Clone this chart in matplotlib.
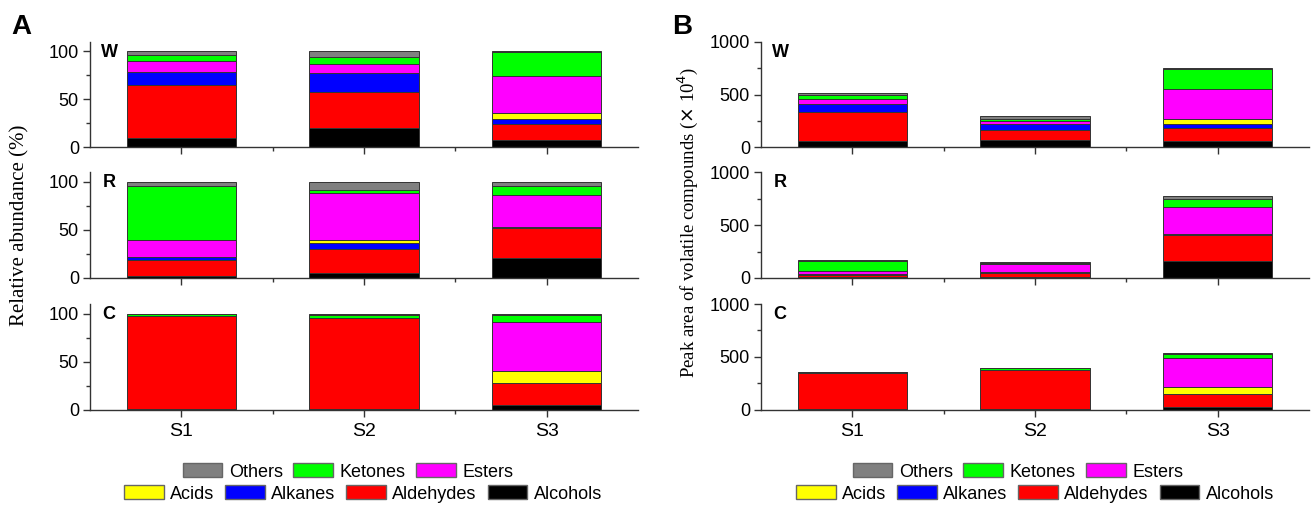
import matplotlib.pyplot as plt
import numpy as np
from matplotlib.patches import Patch

plt.rcParams['font.family'] = ['Liberation Sans', 'DejaVu Sans']

samples = ['S1', 'S2', 'S3']
classes = ['Alcohols', 'Aldehydes', 'Alkanes', 'Acids', 'Esters', 'Ketones', 'Others']
colors = ['#000000', '#ff0000', '#0000ff', '#ffff00', '#ff00ff', '#00ff00', '#808080']

# relative abundance (%), one list per class (bottom -> top), values for S1, S2, S3
rel_W = [[10, 20, 8], [55, 38, 16], [13, 19.5, 6], [0, 0, 6], [11.5, 9.5, 38], [7, 7, 25], [3.5, 6, 1]]
rel_R = [[2.5, 5, 21], [16.5, 25, 31], [3, 6.5, 1], [0, 2.5, 0], [17, 49.5, 33], [56.5, 3.5, 10], [4.5, 8, 4]]
rel_C = [[0.5, 0.5, 5], [96.5, 94.5, 23], [0, 0, 0], [0, 0, 12], [0, 0, 51], [2.5, 4, 8], [0.5, 1, 1]]

# peak area (x 10^4)
area_W = [[60, 68, 60], [270, 100, 120], [80, 53, 45], [0, 0, 45], [47, 25, 285], [40, 22, 187], [13, 24, 8]]
area_R = [[4, 8, 163], [28, 38, 240], [5, 10, 8], [0, 4, 0], [28, 75, 256], [94, 5, 78], [8, 12, 31]]
area_C = [[2, 2, 27], [343, 372, 123], [0, 0, 0], [0, 0, 64], [0, 0, 273], [8, 18, 43], [2, 4, 5]]

rows = ['W', 'R', 'C']
W, H = 1312, 505


def stack(ax, data, ymax, yticks, yminor, letter, last):
    x = np.arange(1, len(samples) + 1)
    bottom = np.zeros(len(samples))
    for vals, c in zip(data, colors):
        vals = np.array(vals, dtype=float)
        ax.bar(x, vals, 0.6, bottom=bottom, color=c, edgecolor='#333333', linewidth=0.7)
        bottom += vals
    ax.set_xlim(0.5, 3.5)
    ax.set_ylim(0, ymax)
    ax.set_yticks(yticks)
    ax.set_yticks(yminor, minor=True)
    ax.set_xticks(x)
    ax.set_xticks([1.5, 2.5], minor=True)
    ax.set_xticklabels(samples if last else [])
    for s in ['top', 'right']:
        ax.spines[s].set_visible(False)
    for s in ['left', 'bottom']:
        ax.spines[s].set_color('#333333')
        ax.spines[s].set_linewidth(1.0)
    ax.tick_params(which='major', direction='out', length=5, width=1, labelsize=13, color='#333333')
    ax.tick_params(which='minor', direction='out', length=3, width=1, color='#333333')
    ax.tick_params(axis='x', pad=5, labelsize=14)
    ax.tick_params(axis='y', pad=3)
    ax.text(0.035, 0.9, letter, transform=ax.transAxes, fontsize=13, fontweight='bold',
            ha='center', va='center')


fig = plt.figure(figsize=(W / 100, H / 100), dpi=100)

tops = [41.7, 172.3, 304.0]
hgt = 105.6
panels = [
    (90, [rel_W, rel_R, rel_C], 110, [0, 50, 100], [25, 75]),
    (761, [area_W, area_R, area_C], 1000, [0, 500, 1000], [250, 750]),
]
for left, datas, ymax, yt, ym in panels:
    for i, (top, data) in enumerate(zip(tops, datas)):
        ax = fig.add_axes([left / W, 1 - (top + hgt) / H, 548 / W, hgt / H])
        stack(ax, data, ymax, yt, ym, rows[i], i == 2)

fig.text(20 / W, 1 - 225 / H, 'Relative abundance (%)', rotation=90, ha='center', va='center',
         fontsize=15, family='Liberation Serif')
fig.text(688 / W, 1 - 222 / H, r'Peak area of volatile compounds ($\times$ 10$^4$)', rotation=90,
         ha='center', va='center', fontsize=13.5, family='Liberation Serif')

fig.text(21 / W, 1 - 27 / H, 'A', fontsize=20, fontweight='bold', ha='center', va='center')
fig.text(682 / W, 1 - 27 / H, 'B', fontsize=20, fontweight='bold', ha='center', va='center')

handles = {n: Patch(facecolor=c, edgecolor='#666666', linewidth=1) for n, c in zip(classes, colors)}
row1 = ['Others', 'Ketones', 'Esters']
row2 = ['Acids', 'Alkanes', 'Aldehydes', 'Alcohols']
for cx1, cx2 in [(348, 363), (1018, 1035)]:
    for names, cx, cy in [(row1, cx1, 472), (row2, cx2, 494)]:
        fig.legend([handles[n] for n in names], names, loc='center', ncol=len(names),
                   bbox_to_anchor=(cx / W, 1 - cy / H), frameon=False, fontsize=13,
                   handlelength=2.2, handleheight=0.8, handletextpad=0.35,
                   columnspacing=0.6, borderpad=0, borderaxespad=0)

fig.savefig('out.png', dpi=100)
